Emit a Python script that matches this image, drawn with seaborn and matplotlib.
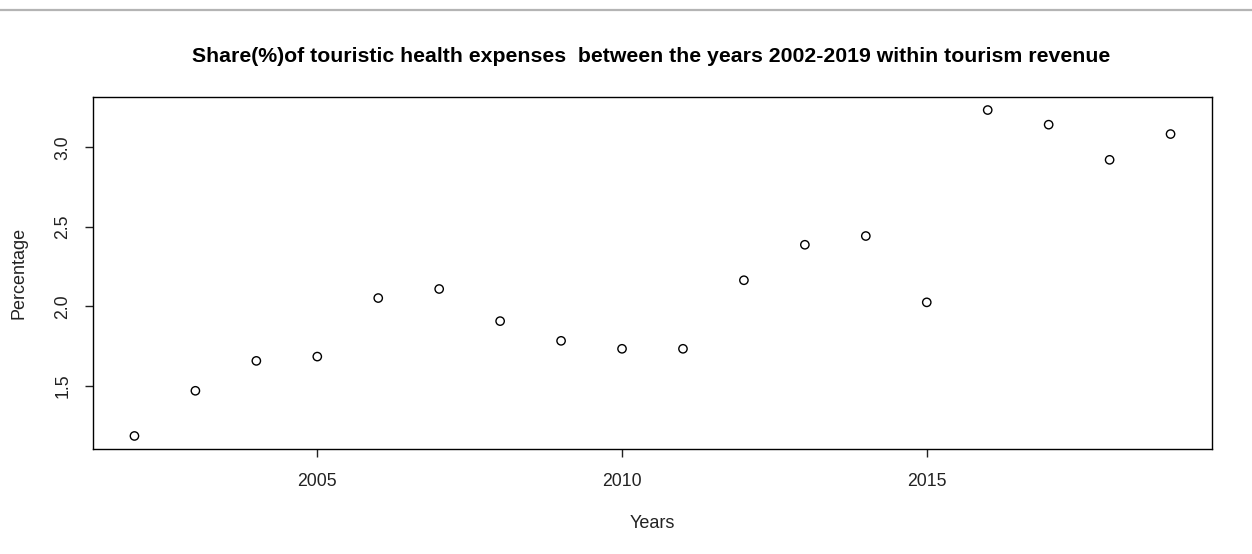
import matplotlib
matplotlib.use("Agg")
import matplotlib.pyplot as plt
from matplotlib.lines import Line2D
from matplotlib.ticker import FormatStrFormatter
import seaborn as sns
import pandas as pd

years = [2002, 2003, 2004, 2005, 2006, 2007, 2008, 2009, 2010,
         2011, 2012, 2013, 2014, 2015, 2016, 2017, 2018, 2019]
share = [1.186, 1.470, 1.658, 1.685, 2.053, 2.110, 1.908, 1.784, 1.734,
         1.734, 2.165, 2.388, 2.443, 2.026, 3.235, 3.143, 2.922, 3.084]
x_ticks = [2005, 2010, 2015]
y_ticks = [1.5, 2.0, 2.5, 3.0]
title = "Share(%)of touristic health expenses  between the years 2002-2019 within tourism revenue"

sns.set_style("white")
plt.rcParams['font.family'] = ['Liberation Sans', 'DejaVu Sans']

df = pd.DataFrame({"Years": years, "Percentage": share})

fig = plt.figure(figsize=(12.52, 5.54), dpi=100)
ax = fig.add_axes([93/1252, (554-449)/554, (1212-93)/1252, (449-97)/554])

sns.scatterplot(data=df, x="Years", y="Percentage", ax=ax,
                marker="o", s=36, facecolor="none", edgecolor="black",
                linewidth=1.0)

xr = max(years) - min(years)
yr = max(share) - min(share)
ax.set_xlim(min(years) - 0.04 * xr, max(years) + 0.04 * xr)
ax.set_ylim(min(share) - 0.04 * yr, max(share) + 0.04 * yr)

ax.set_xticks(x_ticks)
ax.set_yticks(y_ticks)
ax.yaxis.set_major_formatter(FormatStrFormatter('%.1f'))
ax.tick_params(axis='both', direction='out', length=6, width=1, color='#222222',
               labelsize=12.7, labelcolor='#222222',
               bottom=True, left=True)
ax.tick_params(axis='x', pad=11.5)
ax.tick_params(axis='y', pad=9.5)
for lab in ax.get_yticklabels():
    lab.set_rotation(90)
    lab.set_va('center')

for sp in ax.spines.values():
    sp.set_visible(True)
    sp.set_color('black')
    sp.set_linewidth(1.0)

ax.set_xlabel("Years", fontsize=13, color='#222222')
ax.set_ylabel("Percentage", fontsize=13, color='#222222')
ax.yaxis.set_label_coords(-(93 - 19) / (1212 - 93), 0.5)
ax.xaxis.set_label_coords(0.5, -(523 - 449) / (449 - 97))
ax.xaxis.label.set_va('center')
ax.yaxis.label.set_va('center')

fig.text(651 / 1252, 1 - 56 / 554, title, ha='center', va='center',
         fontsize=15.3, fontweight='bold', color='black')

fig.add_artist(Line2D([0, 1], [1 - 10 / 554, 1 - 10 / 554],
                      transform=fig.transFigure, color='#b4b4b4', linewidth=1.6))

fig.savefig("out.png", dpi=100, facecolor='white')
